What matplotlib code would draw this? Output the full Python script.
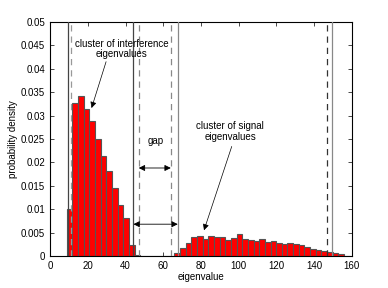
"""
Histogram of eigenvalues with interference / signal clusters and the gap
"""
import numpy as np
import matplotlib
matplotlib.use('Agg')
import matplotlib.pyplot as plt

plt.rcParams['font.family'] = ['Liberation Sans', 'DejaVu Sans']
plt.rcParams['font.size'] = 7

# histogram data (bins of width 3 starting at 8.85)
bin_start = 8.85
bin_width = 3.0
density = [0.0100, 0.0326, 0.0342, 0.0315, 0.0289, 0.0249, 0.0214, 0.0182,
           0.0145, 0.0108, 0.0082, 0.0024, 0.0003, 0.0001, 0.0, 0.0,
           0.0, 0.0001, 0.0001, 0.0006, 0.0017, 0.0028, 0.0041, 0.0042,
           0.0037, 0.0043, 0.0040, 0.0040, 0.0035, 0.0039, 0.0046, 0.0036,
           0.0035, 0.0032, 0.0036, 0.0031, 0.0032, 0.0028, 0.0025, 0.0028,
           0.0025, 0.0024, 0.0020, 0.0016, 0.0013, 0.0010, 0.0009, 0.0006,
           0.0004, 0.0001]

# vertical marker lines
solid_lines = [9.7, 44.2, 67.7, 149.7]
solid_colors = ['#444444', '#444444', '#888888', '#888888']
dashed_lines = [11.1, 47.0, 64.0, 146.9]
dashed_colors = ['#999999', '#888888', '#888888', '#333333']

fig = plt.figure(figsize=(3.88, 2.88), dpi=100)
ax = fig.add_axes([0.129, 0.111, 0.778, 0.813])

edges = bin_start + bin_width * np.arange(len(density))
ax.bar(edges, density, width=bin_width, align='edge', color='red',
       edgecolor='#555555', linewidth=0.8, zorder=2)

for x, c in zip(solid_lines, solid_colors):
    ax.axvline(x, color=c, lw=0.9, zorder=3)
for x, c in zip(dashed_lines, dashed_colors):
    ax.axvline(x, color=c, lw=0.9, ls=(0, (5, 4)), zorder=3)

# gap arrows
arr = dict(arrowstyle='<|-|>', color='black', lw=0.6,
           mutation_scale=9, shrinkA=0, shrinkB=0)
ax.annotate('', xy=(47.0, 0.0188), xytext=(64.0, 0.0188), arrowprops=arr)
ax.annotate('', xy=(44.2, 0.0068), xytext=(67.7, 0.0068), arrowprops=arr)
ax.text(56.0, 0.0245, 'gap', ha='center', va='center')

one = dict(arrowstyle='-|>', color='black', lw=0.5,
           mutation_scale=9, shrinkA=0, shrinkB=0)
ax.text(38.0, 0.0442, 'cluster of interference\neigenvalues',
        ha='center', va='center', linespacing=1.1)
ax.annotate('', xy=(22.0, 0.0316), xytext=(29.7, 0.0415), arrowprops=one)
ax.text(95.4, 0.0266, 'cluster of signal\neigenvalues',
        ha='center', va='center', linespacing=1.1)
ax.annotate('', xy=(81.6, 0.0055), xytext=(96.3, 0.0234), arrowprops=one)

ax.set_xlim(0, 160)
ax.set_ylim(0, 0.05)
ax.set_xticks(np.arange(0, 161, 20))
ax.set_yticks(np.arange(0, 0.0501, 0.005))
ax.set_yticklabels(['0', '0.005', '0.01', '0.015', '0.02', '0.025',
                    '0.03', '0.035', '0.04', '0.045', '0.05'])
ax.tick_params(direction='in', top=True, right=True, length=3, width=0.5)
for s in ax.spines.values():
    s.set_linewidth(0.8)
ax.set_xlabel('eigenvalue', labelpad=1)
ax.set_ylabel('probability density', labelpad=2)

fig.savefig('out.png', dpi=100)
